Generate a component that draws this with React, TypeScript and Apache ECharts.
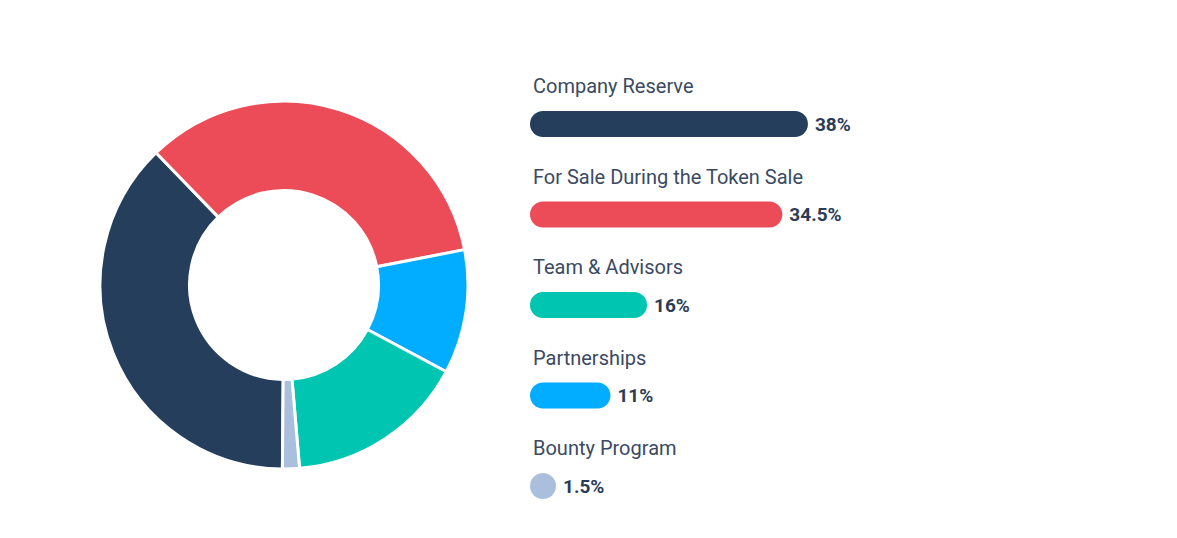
import React, { useEffect, useRef } from "react";
import * as echarts from "echarts";

const categories = [
  "Company Reserve",
  "For Sale During the Token Sale",
  "Team & Advisors",
  "Partnerships",
  "Bounty Program",
];
const shares = [38, 34.5, 16, 11, 1.5];
const valueLabels = ["38%", "34.5%", "16%", "11%", "1.5%"];
const colors = ["#253e5c", "#ec4b58", "#00c5b0", "#02acfe", "#a9bfdb"];
// clockwise order of slices in the donut, starting at the bottom
const pieOrder = [0, 1, 3, 2, 4];

export default function App() {
  const ref = useRef<HTMLDivElement>(null);
  useEffect(() => {
    document.body.style.margin = "0";
    const chart = echarts.init(ref.current!, null, { renderer: "svg" });
    const font = "Roboto, 'Noto Sans', sans-serif";
    chart.setOption({
      animation: false,
      backgroundColor: "#ffffff",
      grid: { left: 530, top: 78.75, height: 452.5, width: 365.7 },
      xAxis: { type: "value", min: 0, max: 50, show: false },
      yAxis: {
        type: "category",
        data: categories,
        inverse: true,
        show: false,
      },
      series: [
        {
          type: "pie",
          center: [284, 285],
          radius: [94.5, 184],
          startAngle: 269.5,
          clockwise: true,
          label: { show: false },
          labelLine: { show: false },
          silent: true,
          itemStyle: { borderColor: "#ffffff", borderWidth: 3 },
          data: pieOrder.map((i) => ({
            name: categories[i],
            value: shares[i],
            itemStyle: { color: colors[i] },
          })),
        },
        {
          type: "bar",
          barWidth: 26,
          barMinHeight: 26,
          silent: true,
          data: shares.map((v, i) => ({
            value: v,
            itemStyle: { color: colors[i], borderRadius: 13 },
          })),
          label: {
            show: true,
            position: "right",
            distance: 7,
            formatter: (p: any) => valueLabels[p.dataIndex],
            fontFamily: font,
            fontSize: 19,
            fontWeight: "bold",
            color: "#2b3c57",
          },
        },
        {
          type: "bar",
          barWidth: 26,
          barMinHeight: 26,
          barGap: "-100%",
          silent: true,
          data: shares.map((v) => ({ value: v })),
          itemStyle: { color: "rgba(0,0,0,0)" },
          label: {
            show: true,
            position: [3, -35],
            formatter: (p: any) => categories[p.dataIndex],
            fontFamily: font,
            fontSize: 20,
            color: "#3a4a63",
          },
        },
      ],
    });
    return () => chart.dispose();
  }, []);
  return <div ref={ref} style={{ width: 1177, height: 538 }} />;
}
